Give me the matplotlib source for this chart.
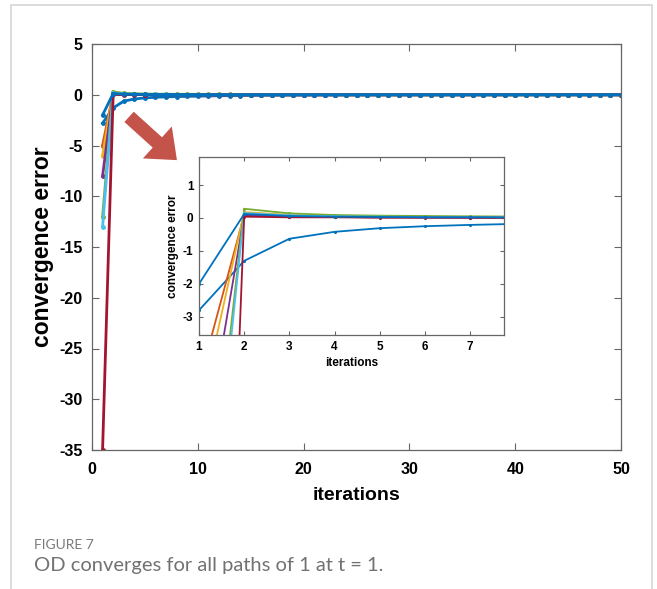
import matplotlib.pyplot as plt
from matplotlib.patches import FancyArrowPatch, Rectangle

# iteration index and the error of each path
iterations = list(range(1, 51))

err_p1 = [-2.8, -1.3, -0.63, -0.42, -0.31, -0.25, -0.21, -0.18, -0.16, -0.14,
          -0.12, -0.10, -0.09, -0.08, -0.07, -0.06, -0.05, -0.045, -0.04, -0.035,
          -0.03, -0.03, -0.025, -0.025, -0.02, -0.02, -0.02, -0.015, -0.015, -0.015,
          -0.01, -0.01, -0.01, -0.01, -0.01, -0.005, -0.005, -0.005, -0.005, -0.005,
          0.0, 0.0, 0.0, 0.0, 0.0, 0.0, 0.0, 0.0, 0.0, 0.0]
err_p2 = [-5.0, 0.10, 0.05, 0.03, 0.02, 0.02, 0.01, 0.01, 0.01, 0.005,
          0.005, 0.005, 0.0, 0.0, 0.0, 0.0, 0.0, 0.0, 0.0, 0.0,
          0.0, 0.0, 0.0, 0.0, 0.0, 0.0, 0.0, 0.0, 0.0, 0.0,
          0.0, 0.0, 0.0, 0.0, 0.0, 0.0, 0.0, 0.0, 0.0, 0.0,
          0.0, 0.0, 0.0, 0.0, 0.0, 0.0, 0.0, 0.0, 0.0, 0.0]
err_p3 = [-6.0, 0.18, 0.09, 0.06, 0.04, 0.03, 0.03, 0.02, 0.02, 0.015,
          0.01, 0.01, 0.01, 0.005, 0.005, 0.005, 0.0, 0.0, 0.0, 0.0,
          0.0, 0.0, 0.0, 0.0, 0.0, 0.0, 0.0, 0.0, 0.0, 0.0,
          0.0, 0.0, 0.0, 0.0, 0.0, 0.0, 0.0, 0.0, 0.0, 0.0,
          0.0, 0.0, 0.0, 0.0, 0.0, 0.0, 0.0, 0.0, 0.0, 0.0]
err_p4 = [-8.0, 0.08, 0.04, 0.03, 0.02, 0.015, 0.01, 0.01, 0.01, 0.005,
          0.005, 0.0, 0.0, 0.0, 0.0, 0.0, 0.0, 0.0, 0.0, 0.0,
          0.0, 0.0, 0.0, 0.0, 0.0, 0.0, 0.0, 0.0, 0.0, 0.0,
          0.0, 0.0, 0.0, 0.0, 0.0, 0.0, 0.0, 0.0, 0.0, 0.0,
          0.0, 0.0, 0.0, 0.0, 0.0, 0.0, 0.0, 0.0, 0.0, 0.0]
err_p5 = [-12.0, 0.28, 0.14, 0.09, 0.07, 0.06, 0.05, 0.045, 0.04, 0.035,
          0.03, 0.03, 0.025, 0.02, 0.02, 0.02, 0.015, 0.015, 0.01, 0.01,
          0.01, 0.01, 0.01, 0.005, 0.005, 0.005, 0.005, 0.005, 0.0, 0.0,
          0.0, 0.0, 0.0, 0.0, 0.0, 0.0, 0.0, 0.0, 0.0, 0.0,
          0.0, 0.0, 0.0, 0.0, 0.0, 0.0, 0.0, 0.0, 0.0, 0.0]
err_p6 = [-13.0, 0.15, 0.08, 0.05, 0.04, 0.03, 0.03, 0.02, 0.02, 0.015,
          0.01, 0.01, 0.01, 0.005, 0.005, 0.0, 0.0, 0.0, 0.0, 0.0,
          0.0, 0.0, 0.0, 0.0, 0.0, 0.0, 0.0, 0.0, 0.0, 0.0,
          0.0, 0.0, 0.0, 0.0, 0.0, 0.0, 0.0, 0.0, 0.0, 0.0,
          0.0, 0.0, 0.0, 0.0, 0.0, 0.0, 0.0, 0.0, 0.0, 0.0]
err_p7 = [-35.0, 0.04, 0.02, 0.02, 0.01, 0.01, 0.01, 0.005, 0.005, 0.0,
          0.0, 0.0, 0.0, 0.0, 0.0, 0.0, 0.0, 0.0, 0.0, 0.0,
          0.0, 0.0, 0.0, 0.0, 0.0, 0.0, 0.0, 0.0, 0.0, 0.0,
          0.0, 0.0, 0.0, 0.0, 0.0, 0.0, 0.0, 0.0, 0.0, 0.0,
          0.0, 0.0, 0.0, 0.0, 0.0, 0.0, 0.0, 0.0, 0.0, 0.0]
err_p8 = [-2.0, 0.12, 0.06, 0.04, 0.03, 0.02, 0.02, 0.015, 0.01, 0.01,
          0.01, 0.01, 0.005, 0.005, 0.005, 0.005, 0.0, 0.0, 0.0, 0.0,
          0.0, 0.0, 0.0, 0.0, 0.0, 0.0, 0.0, 0.0, 0.0, 0.0,
          0.0, 0.0, 0.0, 0.0, 0.0, 0.0, 0.0, 0.0, 0.0, 0.0,
          0.0, 0.0, 0.0, 0.0, 0.0, 0.0, 0.0, 0.0, 0.0, 0.0]

paths = [err_p1, err_p2, err_p3, err_p4, err_p5, err_p6, err_p7, err_p8]
colors = ['#0072BD', '#D95319', '#EDB120', '#7E2F8E',
          '#77AC30', '#4DBEEE', '#A2142F', '#0072BD']

main_ticks_x = [0, 10, 20, 30, 40, 50]
main_ticks_y = [5, 0, -5, -10, -15, -20, -25, -30, -35]
inset_ticks_x = [1, 2, 3, 4, 5, 6, 7]
inset_ticks_y = [1, 0, -1, -2, -3]

plt.rcParams['font.family'] = ['Liberation Sans', 'DejaVu Sans']
plt.rcParams['font.weight'] = 'bold'
plt.rcParams['axes.unicode_minus'] = False

fig = plt.figure(figsize=(6.57, 5.89), dpi=100)

# card frame behind the figure
W, H = 657, 589
fig.add_artist(Rectangle((11 / W, -0.05), 641 / W, 1.05 - 5 / H,
                         transform=fig.transFigure, fill=False,
                         edgecolor='#d6d6d6', linewidth=1.2))

spine_col = '#666666'


def style(ax, size, ticklen, xpad, ypad):
    for s in ax.spines.values():
        s.set_color(spine_col)
        s.set_linewidth(0.9)
    ax.tick_params(direction='in', top=True, right=True, length=ticklen,
                   width=0.8, color=spine_col, labelsize=size)
    ax.tick_params(axis='x', pad=xpad)
    ax.tick_params(axis='y', pad=ypad)
    for lab in ax.get_xticklabels() + ax.get_yticklabels():
        lab.set_fontweight('bold')


ax = fig.add_axes([92 / W, 1 - 450 / H, 529 / W, 406 / H])
for vals, c in zip(paths, colors):
    ax.plot(iterations, vals, '.-', color=c, lw=2.0, ms=5)
ax.set_xlim(0, 50)
ax.set_ylim(-35, 5)
ax.set_xticks(main_ticks_x)
ax.set_yticks(main_ticks_y)
style(ax, 11.5, 5, 9, 7)
ax.set_xlabel('iterations', fontsize=14, fontweight='bold', va='center')
ax.xaxis.set_label_coords(0.5, -(495 - 450) / 406)
ax.set_ylabel('convergence error', fontsize=16.5, fontweight='bold', va='center')
ax.yaxis.set_label_coords((43 - 92) / 529, 0.5)

# zoomed view of the first iterations
ins = fig.add_axes([199 / W, 1 - 335 / H, 305 / W, 178 / H])
for vals, c in zip(paths, colors):
    ins.plot(iterations, vals, '.-', color=c, lw=1.3, ms=2.5)
ins.set_xlim(1, 7.75)
ins.set_ylim(-3.55, 1.85)
ins.set_xticks(inset_ticks_x)
ins.set_yticks(inset_ticks_y)
style(ins, 8.5, 3, 4, 4)
ins.set_xlabel('iterations', fontsize=8.5, fontweight='bold', va='center')
ins.xaxis.set_label_coords(0.5, -(363 - 335) / 178)
ins.set_ylabel('convergence error', fontsize=8.5, fontweight='bold', va='center')
ins.yaxis.set_label_coords(-(199 - 173) / 305, 0.5)

# arrow pointing at the inset
fig.add_artist(FancyArrowPatch((127, 474), (179, 427),
                               transform=None,
                               arrowstyle='simple,head_length=19,head_width=31,tail_width=10',
                               mutation_scale=1, color='#C4534A', lw=0))

fig.text(34 / W, 1 - 545 / H, 'FIGURE 7', fontsize=10, color='#7a7a7a',
         family=['Lato', 'DejaVu Sans'], fontweight='normal', va='center')
fig.text(34 / W, 1 - 566 / H, 'OD converges for all paths of 1 at t = 1.',
         fontsize=14.5, color='#727272', family=['Lato', 'DejaVu Sans'],
         fontweight='normal', va='center')

fig.savefig('out.png', dpi=100)
